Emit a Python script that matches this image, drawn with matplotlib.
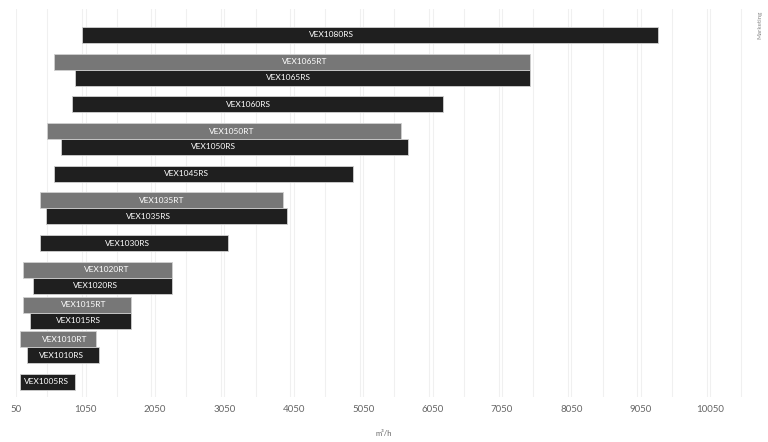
"""Operating ranges of the VEX10xx fan models (airflow, m3/h)."""
import matplotlib

matplotlib.use("Agg")
import matplotlib.pyplot as plt
from matplotlib.ticker import MultipleLocator

plt.rcParams["font.family"] = ["Lato", "DejaVu Sans"]

# one row per model size, top to bottom
models = ["VEX1080", "VEX1065", "VEX1060", "VEX1050", "VEX1045", "VEX1035",
          "VEX1030", "VEX1020", "VEX1015", "VEX1010", "VEX1005"]
# RS range (min, max); every model has one
rs_min = [1000, 900, 850, 700, 600, 475, 400, 300, 250, 200, 100]
rs_max = [9300, 7460, 6200, 5700, 4900, 3950, 3100, 2300, 1700, 1250, 900]
# RT range, None where the model has no RT version
rt_min = [None, 600, None, 500, None, 400, None, 150, 150, 100, None]
rt_max = [None, 7450, None, 5600, None, 3900, None, 2300, 1700, 1200, None]
# where each name label sits along the axis (m3/h)
rs_label_at = [4600, 3980, 3400, 2900, 2500, 1950, 1650, 1200, 950, 700, 480]
rt_label_at = [None, 4210, None, 3150, None, 2150, None, 1350, 1020, 750, None]

x_ticks = list(range(50, 10051, 1000))

RS_COLOR = "#1f1f1f"
RT_COLOR = "#777777"
EDGE = "#d0d0d0"
BAR_H = 0.46

fig = plt.figure(figsize=(7.68, 4.42), dpi=100)
ax = fig.add_axes([0.021, 0.102, 0.949, 0.878])

for i, name in enumerate(models):
    has_rt = rt_min[i] is not None
    y_rs = i + BAR_H / 2 if has_rt else i
    if has_rt:
        y_rt = i - BAR_H / 2
        ax.barh(y_rt, rt_max[i] - rt_min[i], left=rt_min[i], height=BAR_H,
                color=RT_COLOR, edgecolor=EDGE, linewidth=0.6, zorder=2)
        ax.text(rt_label_at[i], y_rt, name + "RT", color="white",
                ha="center", va="center", fontsize=6, zorder=3)
    ax.barh(y_rs, rs_max[i] - rs_min[i], left=rs_min[i], height=BAR_H,
            color=RS_COLOR, edgecolor=EDGE, linewidth=0.6, zorder=2)
    ax.text(rs_label_at[i], y_rs, name + "RS", color="white",
            ha="center", va="center", fontsize=6, zorder=3)

ax.set_xlim(50, 10550)
ax.set_ylim(len(models) - 0.57, -0.75)
ax.set_xticks(x_ticks)
ax.set_xticklabels([str(t) for t in x_ticks])
ax.xaxis.set_minor_locator(MultipleLocator(500))
ax.grid(axis="x", which="both", color="#f0f0f0", linewidth=0.8, zorder=0)
ax.set_yticks([])
ax.tick_params(axis="x", which="both", length=0, labelsize=7, colors="#666666", pad=6)
for side in ax.spines.values():
    side.set_visible(False)

fig.text(0.5, 0.012, "m³/h", fontsize=5.5, color="#666666", ha="center", va="bottom")
fig.text(0.99, 0.975, "Marketing", rotation=90, fontsize=4.5, color="#888888",
         ha="center", va="top")

fig.savefig("out.png", dpi=100)
